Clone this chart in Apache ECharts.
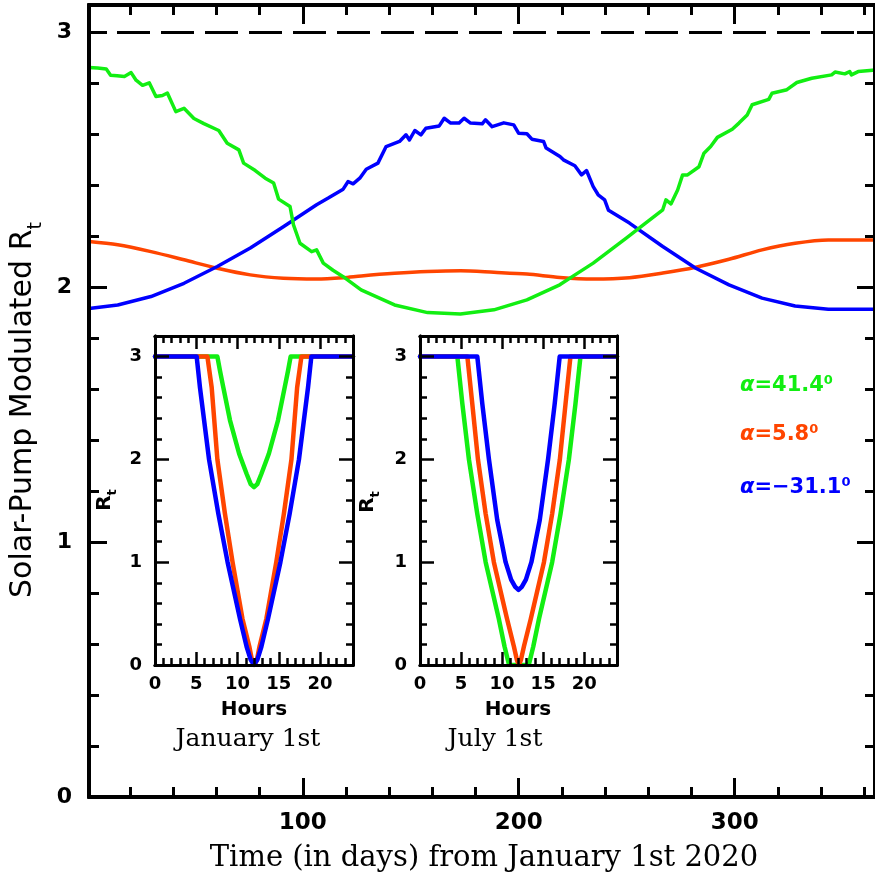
<!DOCTYPE html>
<html><head><meta charset="utf-8">
<script src="https://cdn.jsdelivr.net/npm/echarts@6/dist/echarts.min.js"></script>
<style>html,body{margin:0;padding:0;background:#fff}#c{width:875px;height:881px}</style>
</head><body><div id="c"></div>
<script>
// ---------------- data ----------------
const GREEN = '#12ee12', ORANGE = '#ff4500', BLUE = '#0000ff';
const rtMax = 3; // dashed reference level

// Main panel: day of year vs modulated R_t
const greenDays = [1,5,9,11,14,17.4,20.5,22.8,25.8,28.9,32,35,37.3,41.2,45,49.6,54.2,61.1,65,70.4,72.6,78,82.6,86.5,88.8,94.1,95.7,98.7,104.1,106.4,109.5,114,118.7,127,142.5,157.8,173,188.5,203.8,219,226.6,234.5,249.8,258,266.7,268.2,270.5,273.6,275.9,278.2,283.5,285.8,288.9,292,298.9,302,305.8,308.1,315.8,317.3,324.2,328.8,335.7,344.9,346.5,351,353.3,354.1,357.2,362.6,365];
const greenRt   = [2.86,2.858,2.854,2.83,2.828,2.825,2.84,2.81,2.79,2.80,2.746,2.75,2.76,2.687,2.70,2.66,2.64,2.613,2.563,2.537,2.485,2.456,2.426,2.407,2.344,2.315,2.243,2.171,2.138,2.145,2.093,2.065,2.040,1.988,1.929,1.899,1.894,1.910,1.949,2.008,2.05,2.093,2.191,2.245,2.302,2.341,2.325,2.38,2.439,2.439,2.471,2.524,2.55,2.586,2.618,2.642,2.674,2.714,2.735,2.759,2.773,2.801,2.818,2.831,2.842,2.835,2.844,2.831,2.844,2.848,2.85];

const orangeDays = [1,14.3,29.7,45,60.4,75.7,91,106.4,118.7,127.1,142.5,157.8,173.1,188.5,203.8,219.1,234.5,251.3,266.7,282,297.4,312.7,328,343.4,362.6,365];
const orangeRt   = [2.178,2.165,2.138,2.106,2.073,2.047,2.034,2.031,2.036,2.043,2.053,2.06,2.063,2.057,2.05,2.037,2.031,2.036,2.054,2.077,2.108,2.145,2.171,2.184,2.184,2.184];

const blueDays = [1,14.3,29.7,45,60.4,75.7,91,106.4,111.8,118.7,121,123.3,126.4,129.4,134.8,138.6,144.8,147.8,149.4,151.9,154.7,157,163.2,165.5,168.5,172.4,174.7,177.7,183.1,184.6,187.7,193.1,197.7,200,203.8,206.1,211.5,212.7,219.1,220.7,226,229.1,231.4,234.5,236.8,239.8,241.6,251.3,266.7,282,297.4,312.7,328,343.4,362.6,365];
const blueRt   = [1.915,1.929,1.962,2.014,2.08,2.152,2.236,2.322,2.348,2.383,2.413,2.404,2.426,2.461,2.485,2.55,2.57,2.596,2.576,2.613,2.596,2.622,2.631,2.661,2.642,2.642,2.661,2.642,2.639,2.655,2.628,2.643,2.635,2.602,2.60,2.579,2.57,2.544,2.511,2.498,2.475,2.439,2.456,2.393,2.361,2.341,2.30,2.25,2.158,2.073,2.008,1.956,1.925,1.912,1.912,1.912];

// Inset: January 1st (hours vs R_t)
const janGreenHours  = [0,7.56,7.88,8.28,9.09,10.2,11.1,11.6,12,12.4,12.9,13.8,14.91,15.72,16.12,16.44,24];
const janGreenRt     = [3,3,2.86,2.70,2.38,2.055,1.86,1.76,1.73,1.76,1.86,2.055,2.38,2.70,2.86,3,3];
const janOrangeHours = [0,6.35,6.87,7.56,8.48,9.4,10.6,11.43,11.75,12.05,12.35,12.67,13.5,14.7,15.62,16.54,17.23,17.75,24];
const janOrangeRt    = [3,3,2.7,2,1.47,1,0.45,0.18,0.05,0,0.05,0.18,0.45,1,1.47,2,2.7,3,3];
const janBlueHours   = [0,5.05,5.45,6.55,7.68,8.8,10.3,11.1,11.6,12,12.4,12.9,13.7,15.2,16.32,17.45,18.55,18.95,24];
const janBlueRt      = [3,3,2.7,2,1.47,1,0.45,0.18,0.05,0,0.05,0.18,0.45,1,1.47,2,2.7,3,3];

// Inset: July 1st
const julGreenHours  = [0,4.55,5.16,5.96,6.98,8.0,9.6,10.3,10.85,13.25,13.8,14.5,16.1,17.12,18.14,18.94,19.55,24];
const julGreenRt     = [3,3,2.54,2,1.47,1,0.45,0.18,0,0,0.18,0.45,1,1.47,2,2.54,3,3];
const julOrangeHours = [0,5.77,6.37,7.06,8.0,9.0,10.6,11.44,11.8,12.05,12.3,12.66,13.5,15.1,16.1,17.04,17.73,18.33,24];
const julOrangeRt    = [3,3,2.54,2,1.47,1,0.45,0.18,0.05,0,0.05,0.18,0.45,1,1.47,2,2.54,3,3];
const julBlueHours   = [0,6.98,7.59,8.4,9.41,10.43,11.1,11.6,12,12.4,12.9,13.57,14.59,15.6,16.41,17.02,24];
const julBlueRt      = [3,3,2.54,2,1.41,1.0,0.83,0.76,0.73,0.76,0.83,1.0,1.41,2,2.54,3,3];

// Tick values
const mainXLabels = [100,200,300];
const mainXMajor  = [100,200,300];
const mainXMinor  = [20,40,60,80,120,140,160,180,220,240,260,280,320,340,360];
const mainYLabels = [0,1,2,3];
const mainYMinor  = [0.2,0.4,0.6,0.8,1.2,1.4,1.6,1.8,2.2,2.4,2.6,2.8];
const insetXLabels = [0,5,10,15,20];
const insetXMinor  = [1,2,3,4,6,7,8,9,11,12,13,14,16,17,18,19,21,22,23];
const insetYLabels = [0,1,2,3];
const insetYMinor  = [0.2,0.4,0.6,0.8,1.2,1.4,1.6,1.8,2.2,2.4,2.6,2.8,3.0];

const legendTexts = [['41.4', GREEN], ['5.8', ORANGE], ['\u221231.1', BLUE]];

// ---------------- helpers ----------------
function axes4(dim, grid, min, max, majVals, minVals, labVals, majLen, minLen, lw, tw, lab) {
  const sides = dim === 'x' ? ['bottom', 'top'] : ['left', 'right'];
  const mk = (pos, vals, len, showLab) => ({
    type: 'value', gridIndex: grid, min: min, max: max, position: pos, z: 5,
    splitLine: {show: false},
    axisLine: {show: true, onZero: false, lineStyle: {color: '#000', width: lw}},
    axisTick: {show: true, inside: true, length: len, customValues: vals, lineStyle: {color: '#000', width: tw}},
    axisLabel: showLab ? Object.assign({show: true, customValues: labVals, color: '#000'}, lab) : {show: false}
  });
  return [mk(sides[0], majVals, majLen, true), mk(sides[1], majVals, majLen, false),
          mk(sides[0], minVals, minLen, false), mk(sides[1], minVals, minLen, false)];
}
const pairs = (xs, ys) => xs.map((x, i) => [x, ys[i]]);
const line = (ai, xs, ys, color, w, extra) => Object.assign({
  type: 'line', xAxisIndex: ai, yAxisIndex: ai, data: pairs(xs, ys), symbol: 'none',
  lineStyle: {color: color, width: w, join: 'round', cap: 'round'}, itemStyle: {color: color}, z: 3, silent: true
}, extra || {});

const mainLab = {fontSize: 22, fontWeight: 'bold', fontFamily: 'DejaVu Sans'};
const insetLab = {fontSize: 18, fontWeight: 'bold', fontFamily: 'DejaVu Sans'};

const xAxes = [].concat(
  axes4('x', 0, 1, 365, mainXMajor, mainXMinor, mainXLabels, 19, 10, 4, 3, Object.assign({margin: 15}, mainLab, {fontSize: 23})),
  axes4('x', 1, 0, 24, [5,10,15,20], insetXMinor, insetXLabels, 13, 7, 3, 2.5, Object.assign({margin: 10}, insetLab)),
  axes4('x', 2, 0, 24, [5,10,15,20], insetXMinor, insetXLabels, 13, 7, 3, 2.5, Object.assign({margin: 10}, insetLab))
);
const yAxes = [].concat(
  axes4('y', 0, 0, 3.105, mainYLabels, mainYMinor, mainYLabels, 18, 10, 4, 3, Object.assign({margin: 17}, mainLab)),
  axes4('y', 1, 0, 3.2, [1,2,3], insetYMinor, insetYLabels, 14, 7, 3, 2.5, Object.assign({margin: 13}, insetLab)),
  axes4('y', 2, 0, 3.2, [1,2,3], insetYMinor, insetYLabels, 14, 7, 3, 2.5, Object.assign({margin: 13}, insetLab))
);

function gtext(x, y, text, opt) {
  return Object.assign({type: 'text', x: x, y: y, z: 20, silent: true,
    style: Object.assign({text: text, align: 'center', verticalAlign: 'middle', fill: '#000'}, opt.style || {})},
    opt.rotation ? {rotation: opt.rotation} : {});
}

const graphics = [
  gtext(27, 410, '{a|Solar-Pump Modulated R}{s|t}', {rotation: Math.PI / 2, style: {rich: {
    a: {fontSize: 30, fontFamily: 'DejaVu Sans', fill: '#000', verticalAlign: 'bottom', padding: [0, 0, 7, 0]},
    s: {fontSize: 19, fontFamily: 'DejaVu Sans', fill: '#000', verticalAlign: 'bottom'}}}}),
  gtext(484, 858, 'Time (in days) from January 1st 2020', {style: {fontSize: 29, fontFamily: 'DejaVu Serif'}}),
  gtext(107, 500, '{a|R}{s|t}', {rotation: Math.PI / 2, style: {rich: {
    a: {fontSize: 20, fontWeight: 'bold', fontFamily: 'DejaVu Sans', fill: '#000', verticalAlign: 'bottom', padding: [0, 0, 5, 0]},
    s: {fontSize: 13, fontWeight: 'bold', fontFamily: 'DejaVu Sans', fill: '#000', verticalAlign: 'bottom'}}}}),
  gtext(370, 502, '{a|R}{s|t}', {rotation: Math.PI / 2, style: {rich: {
    a: {fontSize: 20, fontWeight: 'bold', fontFamily: 'DejaVu Sans', fill: '#000', verticalAlign: 'bottom', padding: [0, 0, 5, 0]},
    s: {fontSize: 13, fontWeight: 'bold', fontFamily: 'DejaVu Sans', fill: '#000', verticalAlign: 'bottom'}}}}),
  gtext(254, 710, 'Hours', {style: {fontSize: 20, fontWeight: 'bold', fontFamily: 'DejaVu Sans'}}),
  gtext(518, 710, 'Hours', {style: {fontSize: 20, fontWeight: 'bold', fontFamily: 'DejaVu Sans'}}),
  gtext(248, 739, 'January 1st', {style: {fontSize: 25, fontFamily: 'DejaVu Serif'}}),
  gtext(495, 739, 'July 1st', {style: {fontSize: 25, fontFamily: 'DejaVu Serif'}})
];
const legendY = [385, 434, 487];
legendTexts.forEach((lt, i) => {
  const c = lt[1];
  graphics.push({type: 'text', x: 740, y: legendY[i], z: 20, silent: true, style: {
    text: '{g|\u03b1}{n|=' + lt[0] + '}{s|0}', align: 'left', verticalAlign: 'middle',
    rich: {
      g: {fontSize: 21, fontStyle: 'italic', fontWeight: 'bold', fontFamily: 'DejaVu Sans', fill: c, verticalAlign: 'bottom'},
      n: {fontSize: 21, fontWeight: 'bold', fontFamily: 'DejaVu Sans', fill: c, verticalAlign: 'bottom'},
      s: {fontSize: 13, fontWeight: 'bold', fontFamily: 'DejaVu Sans', fill: c, verticalAlign: 'bottom', padding: [0, 0, 9, 0]}
    }}});
});

const option = {
  animation: false,
  backgroundColor: '#fff',
  grid: [
    {left: 89, top: 5, width: 791, height: 792},
    {left: 155, top: 336, width: 198, height: 329, show: true, backgroundColor: '#fff', borderWidth: 0},
    {left: 420, top: 336, width: 197, height: 329, show: true, backgroundColor: '#fff', borderWidth: 0}
  ],
  xAxis: xAxes,
  yAxis: yAxes,
  series: [
    line(0, orangeDays, orangeRt, ORANGE, 3.5, {smooth: 0.3}),
    line(0, blueDays, blueRt, BLUE, 3.5),
    line(0, greenDays, greenRt, GREEN, 3.5, {
      markLine: {silent: true, symbol: 'none', label: {show: false}, animation: false,
        lineStyle: {color: '#000', width: 3, type: [33, 11], dashOffset: 16},
        data: [{yAxis: rtMax}]}
    }),
    line(4, janGreenHours, janGreenRt, GREEN, 4.5),
    line(4, janOrangeHours, janOrangeRt, ORANGE, 4.5),
    line(4, janBlueHours, janBlueRt, BLUE, 4.5),
    line(8, julGreenHours, julGreenRt, GREEN, 4.5),
    line(8, julOrangeHours, julOrangeRt, ORANGE, 4.5),
    line(8, julBlueHours, julBlueRt, BLUE, 4.5)
  ],
  graphic: graphics
};
const chart = echarts.init(document.getElementById('c'), null, {renderer: 'canvas'});
chart.setOption(option);
</script>
</body></html>
